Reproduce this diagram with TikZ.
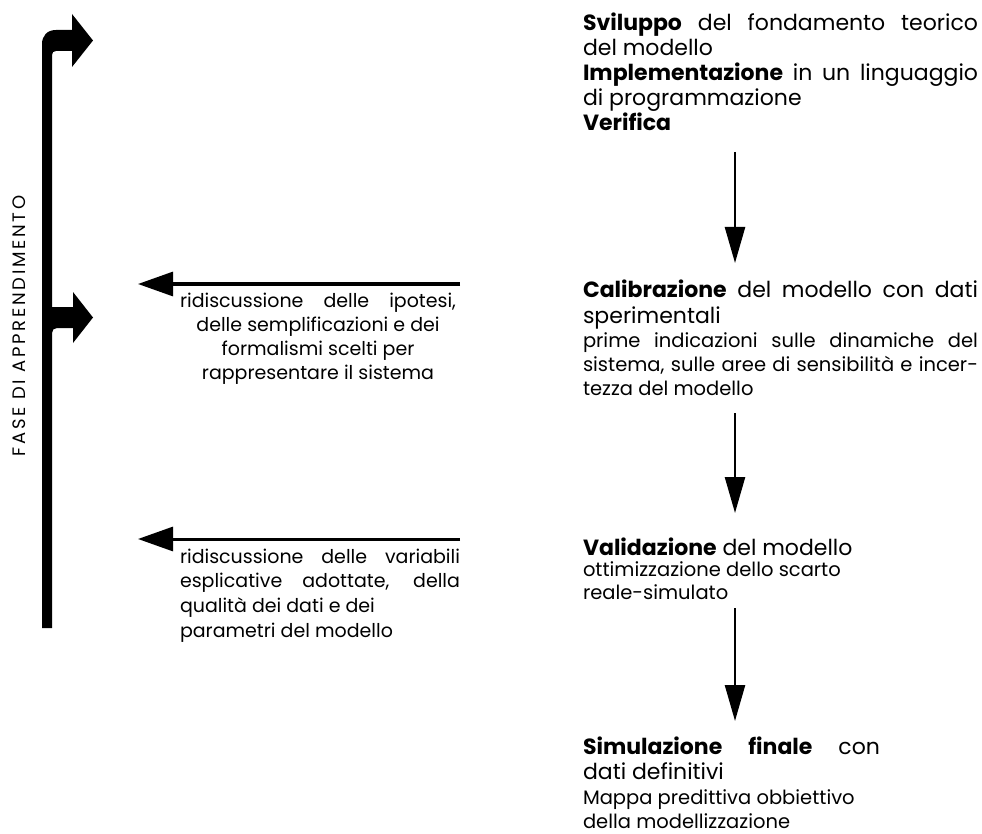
\documentclass[tikz,border=0pt]{standalone}
\usepackage{fontspec}
\setmainfont{Poppins}
\usetikzlibrary{arrows.meta}
\begin{document}
\begin{tikzpicture}[x=1pt,y=-1pt,
  ln/.style={anchor=base west,inner sep=0pt,outer sep=0pt},
  lc/.style={anchor=base,inner sep=0pt,outer sep=0pt},
  big/.style={font=\fontsize{22}{26}\selectfont},
  small/.style={font=\fontsize{19.5}{23}\selectfont},
  leftt/.style={font=\fontsize{19}{23}\selectfont},
  downarrow/.style={line width=2.5pt,-{Triangle[length=36pt,width=20pt]}},
  backarrow/.style={line width=3pt,-{Triangle[length=35pt,width=24pt]}}]
\fill[white] (0,0) rectangle (982,834);
\useasboundingbox (0,0) rectangle (982,834);
% learning bar with two bent arrows
\fill[black] (42,628) -- (42,44) .. controls (42,36) and (47,30) .. (56,30) -- (72,30) -- (72,14) -- (93,40.5) -- (72,67) -- (72,51)
  -- (56,51) .. controls (53.5,51) and (52,52.5) .. (52,55) -- (52,307) -- (73,307) -- (73,292) -- (93,317.5) -- (73,343) -- (73,328)
  -- (57,328) .. controls (54,328) and (52,330) .. (52,333) -- (52,628) -- cycle;
\node[rotate=90,inner sep=0pt,font=\fontsize{18}{20}\selectfont\addfontfeature{LetterSpace=15}] (fase) at (19,326) {FASE DI APPRENDIMENTO};
% right column block 1
\node[ln,big] (s1) at (583,31) {\makebox[395pt][s]{\textbf{Sviluppo} del fondamento teorico}};
\node[ln,big] (s2) at (583,56) {del modello};
\node[ln,big] (s3) at (583,81) {\makebox[395pt][s]{\textbf{Implementazione} in un linguaggio}};
\node[ln,big] (s4) at (583,106) {di programmazione};
\node[ln,big] (s5) at (583,131) {\textbf{Verifica}};
% block 2
\node[ln,big] (c1) at (583,298) {\makebox[395pt][s]{\textbf{Calibrazione} del modello con dati}};
\node[ln,big] (c2) at (583,323) {sperimentali};
\node[ln,small] (c3) at (583,347) {\makebox[395pt][s]{prime indicazioni sulle dinamiche del}};
\node[ln,small] (c4) at (583,371) {\makebox[395pt][s]{sistema, sulle aree di sensibilità e incer-}};
\node[ln,small] (c5) at (583,395) {tezza del modello};
% block 3
\node[ln,big] (v1) at (583,555) {\textbf{Validazione} del modello};
\node[ln,small] (v2) at (583,576) {ottimizzazione dello scarto};
\node[ln,small] (v3) at (583,599) {reale-simulato};
% block 4
\node[ln,big] (f1) at (583,754) {\makebox[297pt][s]{\textbf{Simulazione} \textbf{finale} con}};
\node[ln,big] (f2) at (583,779) {dati definitivi};
\node[ln,small] (f3) at (583,804) {Mappa predittiva obbiettivo};
\node[ln,small] (f4) at (583,828) {della modellizzazione};
% left texts
\node[lc,leftt] (r1) at (318,307) {\makebox[276pt][s]{ridiscussione delle ipotesi,}};
\node[lc,leftt] (r2) at (318,331) {delle semplificazioni e dei};
\node[lc,leftt] (r3) at (318,355) {formalismi scelti per};
\node[lc,leftt] (r4) at (318,379) {rappresentare il sistema};
\node[ln,leftt] (q1) at (180,563) {\makebox[280pt][s]{ridiscussione delle variabili}};
\node[ln,leftt] (q2) at (180,587) {\makebox[280pt][s]{esplicative adottate, della}};
\node[ln,leftt] (q3) at (180,612) {qualità dei dati e dei};
\node[ln,leftt] (q4) at (180,637) {parametri del modello};
% connectors
\coordinate (d1a) at (735,152); \coordinate (d1b) at (735,263);
\coordinate (d2a) at (735,413); \coordinate (d2b) at (735,513);
\coordinate (d3a) at (735,608); \coordinate (d3b) at (735,721);
\draw[downarrow] (d1a) -- (d1b);
\draw[downarrow] (d2a) -- (d2b);
\draw[downarrow] (d3a) -- (d3b);
\coordinate (l1a) at (460,284); \coordinate (l1b) at (138,284);
\coordinate (l2a) at (460,539); \coordinate (l2b) at (138,539);
\draw[backarrow] (l1a) -- (l1b);
\draw[backarrow] (l2a) -- (l2b);
\end{tikzpicture}
\end{document}
